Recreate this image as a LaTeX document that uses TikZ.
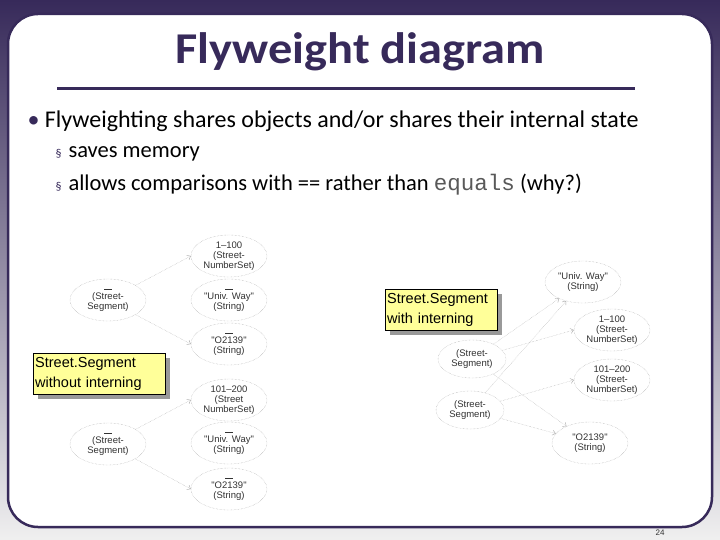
\documentclass[tikz,border=0pt]{standalone}
\usepackage{fontspec}
\setmainfont{Carlito}
\newfontfamily\arialf{Liberation Sans}
\newfontfamily\monof{Liberation Mono}
\usetikzlibrary{shapes.geometric,arrows.meta,shadows}
\definecolor{frame}{RGB}{55,42,90}
\definecolor{calloutfill}{RGB}{255,255,153}
\tikzset{
  obj/.style={ellipse,draw=gray!70,densely dotted,align=center,font=\arialf\fontsize{9.5}{10}\selectfont,text=gray!40!black,inner sep=0pt,minimum width=76pt,minimum height=42pt},
  lnk/.style={draw=gray!70,densely dotted,-{Straight Barb[length=3pt,width=5pt]}},
  callout/.style={draw=black,fill=calloutfill,align=left,font=\arialf\fontsize{14.5}{20}\selectfont,inner xsep=2pt,inner ysep=4pt,drop shadow={shadow xshift=5pt,shadow yshift=-5pt,fill=gray!80,opacity=1}},
}
\begin{document}
\begin{tikzpicture}[x=1pt,y=-1pt]
\useasboundingbox (0,0) rectangle (720,540);
\shade[top color=frame,bottom color=gray!12] (0,0) rectangle (720,540);
\draw[frame,line width=2.5pt,fill=white,rounded corners=30pt] (8,14) rectangle (712,527);
\node[font=\bfseries\fontsize{44}{48}\selectfont,text=frame,xscale=1.1] (title) at (360,52) {Flyweight diagram};
\draw[frame,line width=3pt] (57,89) -- (635,89);
\node[anchor=west,font=\fontsize{24}{26}\selectfont,text=black] (b1) at (24,121) {\textcolor{frame}{•} Flyweighting shares objects and/or shares their internal state};
\node[anchor=west,font=\fontsize{22.5}{24}\selectfont] (s1) at (52,154) {\textcolor{frame}{\large§}\hspace{7pt}saves memory};
\node[anchor=west,font=\fontsize{22.5}{24}\selectfont] (s2) at (52,185) {\textcolor{frame}{\large§}\hspace{7pt}allows comparisons with == rather than {\monof\color{gray!70!black}equals} (why?)};
% left diagram, top
\node[obj] (sa) at (108,300) {\rule{8pt}{0.4pt}\\(Street-\\Segment)};
\node[obj] (na) at (229,256) {1–100\\(Street-\\NumberSet)};
\node[obj] (ua) at (229,300) {\rule{8pt}{0.4pt}\\"Univ. Way"\\(String)};
\node[obj] (za) at (229,344) {\rule{8pt}{0.4pt}\\"O2139"\\(String)};
\draw[lnk] (sa) -- (na.west);
\draw[lnk] (sa) -- (za.west);
% left diagram, bottom
\node[obj] (sb) at (108,444) {\rule{8pt}{0.4pt}\\(Street-\\Segment)};
\node[obj] (nb) at (229,400) {101–200\\(Street\\NumberSet)};
\node[obj] (ub) at (229,443) {\rule{8pt}{0.4pt}\\"Univ. Way"\\(String)};
\node[obj] (zb) at (229,489) {\rule{8pt}{0.4pt}\\"O2139"\\(String)};
\draw[lnk] (sb) -- (nb.west);
\draw[lnk] (sb) -- (zb.west);
% right diagram
\node[obj,minimum width=68pt,minimum height=38pt] (r1) at (472,359) {(Street-\\Segment)};
\node[obj,minimum width=68pt,minimum height=38pt] (r2) at (470,410) {(Street-\\Segment)};
\node[obj] (ru) at (583,282) {"Univ. Way"\\(String)};
\node[obj] (rn1) at (612,330) {1–100\\(Street-\\NumberSet)};
\node[obj] (rn2) at (612,380) {101–200\\(Street-\\NumberSet)};
\node[obj] (rz) at (590,443) {"O2139"\\(String)};
\draw[lnk] (r1) -- (ru);
\draw[lnk] (r1) -- (rn1.west);
\draw[lnk] (r1) -- (rz);
\draw[lnk] (r2) -- (ru);
\draw[lnk] (r2) -- (rn2.west);
\draw[lnk] (r2) -- (rz);
% callouts
\node[callout,anchor=north west,text width=108pt] (c1) at (385,289) {Street.Segment\\with interning};
\node[callout,anchor=north west,text width=128pt] (c2) at (33,353) {Street.Segment\\without interning};
\node[font=\arialf\fontsize{8}{9}\selectfont,text=gray!40!black] (pg) at (660,533) {24};
\end{tikzpicture}
\end{document}
